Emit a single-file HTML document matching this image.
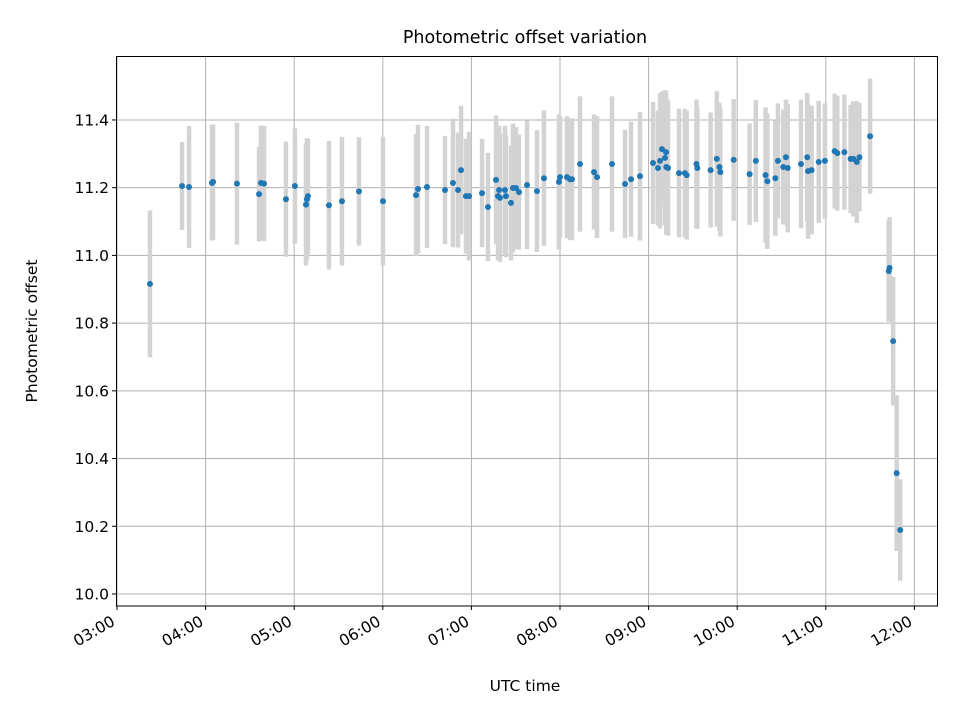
<!DOCTYPE html>
<html><head><meta charset="utf-8"><style>
body{margin:0;background:#fff;}
svg{display:block;font-family:"DejaVu Sans","Liberation Sans",sans-serif;}
</style></head><body>
<svg id="chart" width="960" height="720" xmlns="http://www.w3.org/2000/svg">
<rect width="960" height="720" fill="#fff"/>
<text x="525" y="43" text-anchor="middle" font-size="17.5">Photometric offset variation</text>
<text x="525" y="691" text-anchor="middle" font-size="15.5">UTC time</text>
<text transform="translate(37,331) rotate(-90)" text-anchor="middle" font-size="15.5">Photometric offset</text>
<g id="grid"></g><g id="bars"></g><g id="pts"></g><g id="ticks"></g>
<rect x="116.5" y="56.5" width="821" height="549.5" fill="none" stroke="#000" stroke-width="1"/>
</svg>
<script>
const times=[3.372,3.734,3.813,4.072,4.084,4.354,4.603,4.625,4.659,4.907,5.008,5.133,5.144,5.155,5.392,5.539,5.731,6.002,6.375,6.397,6.499,6.702,6.792,6.849,6.883,6.939,6.973,7.120,7.187,7.278,7.312,7.300,7.323,7.379,7.447,7.390,7.469,7.503,7.537,7.628,7.740,7.819,7.988,8.000,8.079,8.113,8.135,8.226,8.384,8.418,8.587,8.734,8.802,8.903,9.050,9.106,9.129,9.151,9.197,9.185,9.2,9.219,9.343,9.41,9.43,9.54,9.55,9.70,9.77,9.80,9.81,9.96,10.14,10.21,10.32,10.34,10.43,10.46,10.52,10.55,10.57,10.72,10.79,10.80,10.84,10.92,10.99,11.10,11.13,11.21,11.28,11.31,11.35,11.38,11.50,11.71,11.72,11.76,11.80,11.84];
const values=[10.916,11.205,11.202,11.214,11.217,11.212,11.181,11.214,11.212,11.166,11.205,11.150,11.166,11.175,11.148,11.160,11.189,11.160,11.178,11.196,11.202,11.193,11.214,11.193,11.252,11.175,11.175,11.184,11.143,11.223,11.193,11.175,11.170,11.193,11.155,11.175,11.199,11.199,11.187,11.208,11.190,11.228,11.217,11.231,11.231,11.225,11.225,11.270,11.246,11.231,11.270,11.211,11.225,11.234,11.273,11.258,11.279,11.314,11.305,11.288,11.261,11.258,11.243,11.243,11.237,11.270,11.258,11.252,11.285,11.261,11.246,11.282,11.240,11.279,11.237,11.219,11.228,11.279,11.261,11.29,11.258,11.27,11.29,11.249,11.252,11.276,11.279,11.308,11.302,11.305,11.285,11.285,11.276,11.29,11.352,10.954,10.963,10.747,10.357,10.189];
const errors=[0.217,0.13,0.18,0.17,0.17,0.18,0.14,0.17,0.17,0.17,0.17,0.18,0.18,0.17,0.19,0.19,0.16,0.19,0.18,0.19,0.18,0.16,0.19,0.17,0.19,0.17,0.19,0.16,0.16,0.19,0.19,0.19,0.19,0.19,0.17,0.18,0.19,0.18,0.17,0.19,0.18,0.2,0.2,0.18,0.18,0.18,0.18,0.2,0.17,0.18,0.2,0.16,0.17,0.19,0.18,0.17,0.2,0.17,0.18,0.2,0.2,0.2,0.19,0.19,0.19,0.19,0.18,0.17,0.2,0.19,0.19,0.18,0.15,0.18,0.2,0.2,0.17,0.17,0.17,0.17,0.19,0.19,0.19,0.2,0.19,0.18,0.17,0.17,0.17,0.17,0.16,0.17,0.18,0.16,0.17,0.15,0.15,0.19,0.23,0.15];
const xTicks=[3,4,5,6,7,8,9,10,11,12];
const xTickLabels=["03:00","04:00","05:00","06:00","07:00","08:00","09:00","10:00","11:00","12:00"];
const yTicks=[10.0,10.2,10.4,10.6,10.8,11.0,11.2,11.4];
const yTickLabels=["10.0","10.2","10.4","10.6","10.8","11.0","11.2","11.4"];
const NS="http://www.w3.org/2000/svg";
const X=h=>117+(h-3)*88.6;
const Y=v=>594-(v-10)*338.6;
function mk(tag,attrs,parent){const e=document.createElementNS(NS,tag);for(const k in attrs)e.setAttribute(k,attrs[k]);parent.appendChild(e);return e;}
const grid=document.getElementById('grid'),ticks=document.getElementById('ticks'),bars=document.getElementById('bars'),pts=document.getElementById('pts');
xTicks.forEach((t,i)=>{const x=X(t);
 const g=mk('line',{x1:x,x2:x,y1:56,y2:606,stroke:'#b0b0b0','stroke-width':1},grid);
 
 
 mk('line',{x1:x,x2:x,y1:606,y2:610,stroke:'#000'},ticks);
 const tx=mk('text',{x:0,y:12,'text-anchor':'end','font-size':15.5,transform:`translate(${x-7} 614) rotate(-30)`},ticks);
 tx.textContent=xTickLabels[i];
 
 
});
yTicks.forEach((t,i)=>{const y=Y(t);
 const g=mk('line',{x1:116,x2:938,y1:y,y2:y,stroke:'#b0b0b0','stroke-width':1},grid);
 
 
 mk('line',{x1:112,x2:116,y1:y,y2:y,stroke:'#000'},ticks);
 const tx=mk('text',{x:109,y:y+5.5,'text-anchor':'end','font-size':15.5},ticks);
 tx.textContent=yTickLabels[i];
 
 
});
times.forEach((t,i)=>{const x=X(t);
 const b=mk('line',{x1:x,x2:x,y1:Y(values[i]+errors[i]),y2:Y(values[i]-errors[i]),stroke:'#d3d3d3','stroke-width':4.5},bars);
 
 
 const c=mk('circle',{cx:x,cy:Y(values[i]),r:3,fill:'#1f77b4'},pts);
 
 
});
</script>
</body></html>
